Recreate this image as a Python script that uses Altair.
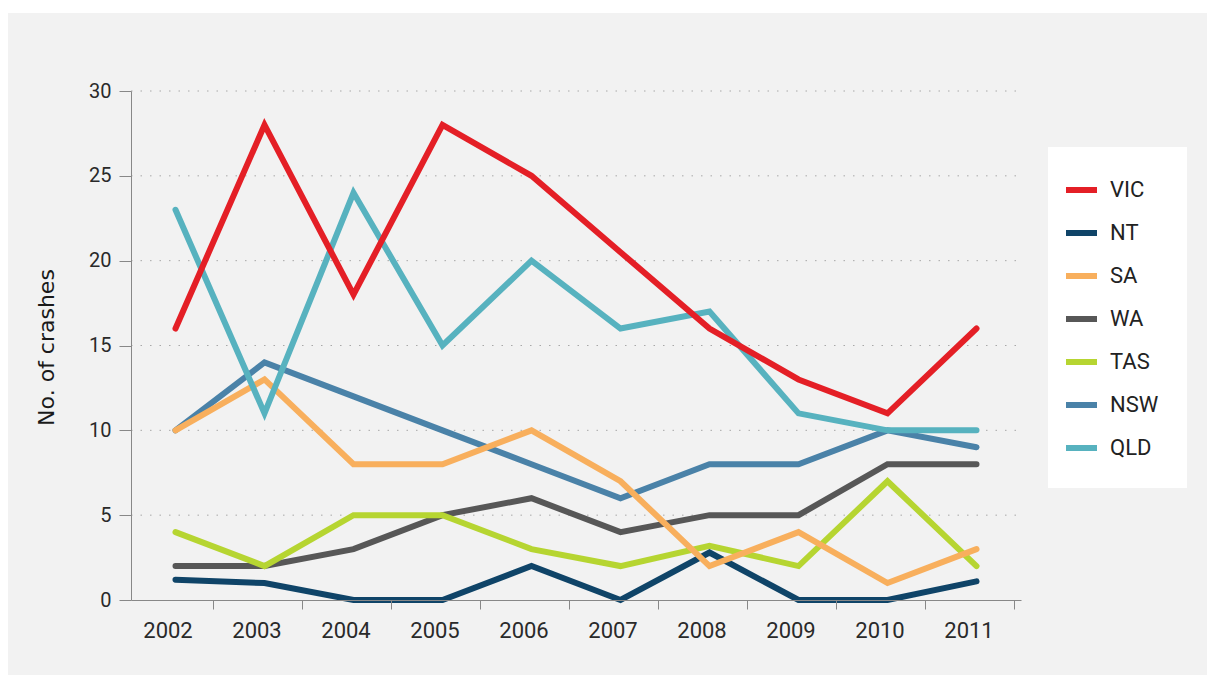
import altair as alt
import pandas as pd

# ---- data -------------------------------------------------------------
years = ["2002", "2003", "2004", "2005", "2006", "2007", "2008", "2009", "2010", "2011"]
states = ["VIC", "NT", "SA", "WA", "TAS", "NSW", "QLD"]
colors = ["#e41f26", "#0f4468", "#f8af5d", "#575757", "#b6d531", "#4a82a8", "#57b2bf"]

VIC = [16, 28, 18, 28, 25, 20.5, 16, 13, 11, 16]
NT = [1.2, 1, 0, 0, 2, 0, 2.8, 0, 0, 1.1]
SA = [10, 13, 8, 8, 10, 7, 2, 4, 1, 3]
WA = [2, 2, 3, 5, 6, 4, 5, 5, 8, 8]
TAS = [4, 2, 5, 5, 3, 2, 3.2, 2, 7, 2]
NSW = [10, 14, 12, 10, 8, 6, 8, 8, 10, 9]
QLD = [23, 11, 24, 15, 20, 16, 17, 11, 10, 10]

y_ticks = [0, 5, 10, 15, 20, 25, 30]
grid_values = [5, 10, 15, 20, 25, 30]

series = {"VIC": VIC, "NT": NT, "SA": SA, "WA": WA, "TAS": TAS, "NSW": NSW, "QLD": QLD}
draw_order = ["WA", "TAS", "NT", "NSW", "SA", "QLD", "VIC"]

rows = []
for s in draw_order:
    for y, v in zip(years, series[s]):
        rows.append({"year": y, "state": s, "value": v})
df = pd.DataFrame(rows)

W, H = 890, 509

dummy = pd.DataFrame({"k": [0]})
grid_df = pd.DataFrame({"value": grid_values})

yscale = alt.Scale(domain=[0, 30], nice=False)
yaxis = alt.Axis(
    title="No. of crashes",
    values=y_ticks,
    tickSize=12,
    labelPadding=8,
    labelFont="Roboto",
    labelFontSize=20,
    labelColor="#2a2a2a",
    domainColor="#888888",
    tickColor="#888888",
    grid=False,
    titleFont="DejaVu Sans",
    titleFontSize=22,
    titleFontWeight="normal",
    titleColor="#1a1a1a",
    titleX=-78,
    titleY=256,
    titleAlign="center",
    titleBaseline="alphabetic",
    zindex=1,
)

# panel background (decoration)
panel = alt.Chart(dummy).mark_rect(color="#f2f2f2").encode(
    x=alt.value(-123), x2=alt.value(1076), y=alt.value(-78), y2=alt.value(584)
)
# legend box (decoration)
legend_box = alt.Chart(dummy).mark_rect(color="#ffffff").encode(
    x=alt.value(917), x2=alt.value(1056), y=alt.value(56), y2=alt.value(397)
)

# dotted horizontal gridlines
grid = alt.Chart(grid_df).mark_rule(
    color="#a8a8a8", strokeWidth=1, strokeDash=[1.5, 8]
).encode(
    y=alt.Y("value:Q", scale=yscale, axis=yaxis),
    x=alt.value(0),
    x2=alt.value(W),
)

lines = alt.Chart(df).mark_line(strokeWidth=6, strokeCap="round").encode(
    x=alt.X(
        "year:O",
        bandPosition=0.5,
        scale=alt.Scale(type="band", domain=years, paddingInner=0, paddingOuter=0),
        axis=alt.Axis(
            title=None,
            labelAngle=0,
            tickSize=9,
            tickOffset=37.5,
            labelOffset=-45.5,
            labelPadding=11,
            labelFont="Roboto",
            labelFontSize=22,
            labelColor="#2a2a2a",
            domainColor="#888888",
            tickColor="#888888",
            grid=False,
            zindex=1,
        ),
    ),
    y=alt.Y("value:Q", scale=yscale, axis=yaxis),
    color=alt.Color(
        "state:N",
        scale=alt.Scale(domain=states, range=colors),
        legend=alt.Legend(
            orient="none",
            legendX=932,
            legendY=80.5,
            title=None,
            symbolType="stroke",
            symbolSize=961,
            symbolStrokeWidth=6,
            labelFont="Roboto",
            labelFontSize=22,
            labelColor="#222222",
            labelOffset=10,
            rowPadding=12,
            padding=0,
        ),
    ),
    detail="state:N",
)

chart = alt.layer(panel, legend_box, grid, lines).properties(
    width=W,
    height=H,
    padding={"left": 8, "top": 13, "right": 0, "bottom": 0},
    background="#ffffff",
).configure_view(stroke=None)

chart.save("out.html", embed_options={"renderer": "svg", "actions": False})
